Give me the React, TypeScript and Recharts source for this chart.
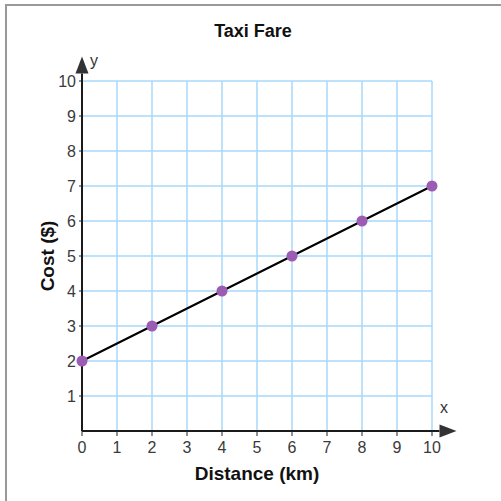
import {
  CartesianGrid,
  ComposedChart,
  Line,
  ReferenceLine,
  Scatter,
  XAxis,
  YAxis,
} from 'recharts'

const distanceKm = [0, 2, 4, 6, 8, 10]
const costDollars = [2, 3, 4, 5, 6, 7]
const xTicks = [0, 1, 2, 3, 4, 5, 6, 7, 8, 9, 10]
const yTicks = [1, 2, 3, 4, 5, 6, 7, 8, 9, 10]

const data = distanceKm.map((x, i) => ({ x, y: costDollars[i] }))

const FONT = '"Liberation Sans", Arial, sans-serif'
const GRID = '#a9d9fb'
const DOT = '#9d5cb4'

// axis line that ends in a filled arrowhead at (x2, y2)
function ArrowLine(props: any) {
  const { x1, y1, x2, y2 } = props
  const dx = x2 - x1
  const dy = y2 - y1
  const len = Math.hypot(dx, dy) || 1
  const ux = dx / len
  const uy = dy / len
  const headLen = 17
  const half = 6.5
  const bx = x2 - ux * headLen
  const by = y2 - uy * headLen
  const pts = [
    `${x2},${y2}`,
    `${bx - uy * half},${by + ux * half}`,
    `${bx + uy * half},${by - ux * half}`,
  ].join(' ')
  return (
    <g>
      <line x1={x1} y1={y1} x2={bx} y2={by} stroke="#1a1a1a" strokeWidth={2} />
      <polygon points={pts} fill="#333" />
    </g>
  )
}

function Dot(props: any) {
  const { cx, cy } = props
  return <circle cx={cx} cy={cy} r={5.5} fill={DOT} />
}

// plain tick text so the size is not overridden
function Tick(props: any) {
  const { x, y, payload, textAnchor, axis } = props
  const isX = axis === 'x'
  return (
    <text
      x={x}
      y={y}
      dy={isX ? '0.71em' : '0.355em'}
      textAnchor={textAnchor}
      fill="#3a3a3a"
      style={{ fontSize: 16, fontFamily: FONT }}
    >
      {payload.value}
    </text>
  )
}

export default function App() {
  return (
    <div
      style={{
        position: 'absolute',
        left: 0,
        top: 0,
        width: 501,
        height: 501,
        overflow: 'hidden',
        background: '#fff',
        fontFamily: FONT,
      }}
    >
      <div
        style={{
          position: 'absolute',
          left: 5,
          top: 4,
          width: 700,
          height: 700,
          borderTop: '2px solid #999',
          borderLeft: '2px solid #999',
        }}
      />
      <div
        style={{
          position: 'absolute',
          left: 0,
          top: 21,
          width: 506,
          textAlign: 'center',
          fontWeight: 'bold',
          fontSize: 18,
          color: '#111',
        }}
      >
        Taxi Fare
      </div>
      <ComposedChart
        width={501}
        height={501}
        data={data}
        margin={{ top: 81, right: 69, bottom: 40, left: 0 }}
        style={{ position: 'absolute', left: 0, top: 0, fontFamily: FONT }}
      >
        <CartesianGrid stroke={GRID} strokeWidth={1.5} />
        <XAxis
          type="number"
          dataKey="x"
          domain={[0, 10]}
          ticks={xTicks}
          interval={0}
          height={30}
          axisLine={false}
          tickSize={5}
          tickMargin={6}
          tickLine={{ stroke: '#222' }}
          tick={<Tick axis="x" />}
        />
        <YAxis
          type="number"
          dataKey="y"
          domain={[0, 10]}
          ticks={yTicks}
          interval={0}
          width={82}
          axisLine={false}
          tickSize={3}
          tickMargin={3}
          tickLine={{ stroke: '#222' }}
          tick={<Tick axis="y" />}
        />
        <Scatter dataKey="y" shape={<Dot />} isAnimationActive={false} />
        <Line
          type="linear"
          dataKey="y"
          stroke="#000"
          strokeWidth={2}
          dot={false}
          activeDot={false}
          isAnimationActive={false}
        />
        <ReferenceLine
          segment={[
            { x: 0, y: 0 },
            { x: 10.7, y: 0 },
          ]}
          ifOverflow="visible"
          shape={ArrowLine}
        />
        <ReferenceLine
          segment={[
            { x: 0, y: 0 },
            { x: 0, y: 10.7 },
          ]}
          ifOverflow="visible"
          shape={ArrowLine}
        />
      </ComposedChart>
      <div style={{ position: 'absolute', left: 90, top: 52, fontSize: 16, color: '#333' }}>y</div>
      <div style={{ position: 'absolute', left: 440, top: 399, fontSize: 16, color: '#333' }}>x</div>
      <div
        style={{
          position: 'absolute',
          left: 0,
          top: 463,
          width: 514,
          textAlign: 'center',
          fontWeight: 'bold',
          fontSize: 19,
          color: '#111',
        }}
      >
        Distance (km)
      </div>
      <div
        style={{
          position: 'absolute',
          left: 48,
          top: 256,
          transform: 'translate(-50%, -50%) rotate(-90deg)',
          whiteSpace: 'nowrap',
          fontWeight: 'bold',
          fontSize: 19,
          color: '#111',
        }}
      >
        Cost ($)
      </div>
    </div>
  )
}
